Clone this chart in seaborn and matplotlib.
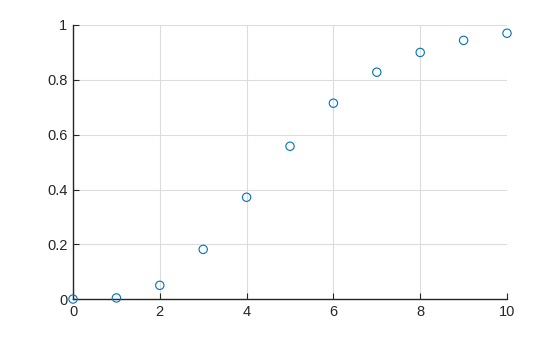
import matplotlib
matplotlib.use("Agg")
import matplotlib.pyplot as plt
import seaborn as sns
import pandas as pd

x_vals = [0, 1, 2, 3, 4, 5, 6, 7, 8, 9, 10]
y_vals = [0.001, 0.005, 0.051, 0.182, 0.372, 0.558, 0.715, 0.828, 0.900, 0.944, 0.970]
x_ticks = [0, 2, 4, 6, 8, 10]
y_ticks = [0, 0.2, 0.4, 0.6, 0.8, 1]
y_tick_labels = ["0", "0.2", "0.4", "0.6", "0.8", "1"]

sns.set_style("white")
plt.rcParams['font.family'] = ['Liberation Sans', 'DejaVu Sans']

df = pd.DataFrame({"x": x_vals, "y": y_vals})

fig = plt.figure(figsize=(5.6, 3.37), dpi=100)
ax = fig.add_axes([73/560, 1 - 299.3/337, (507 - 73)/560, (299.3 - 25)/337])

sns.scatterplot(data=df, x="x", y="y", ax=ax, marker="o", s=36,
                facecolor="none", edgecolor="#0072BD", linewidth=0.8,
                zorder=3, clip_on=False)

ax.set_xlim(0, 10)
ax.set_ylim(0, 1)
ax.set_xticks(x_ticks)
ax.set_yticks(y_ticks)
ax.set_yticklabels(y_tick_labels)
ax.set_xlabel("")
ax.set_ylabel("")
ax.grid(True, color="#dcdcdc", linewidth=0.8)
ax.set_axisbelow(True)
for s in ["top", "right"]:
    ax.spines[s].set_visible(False)
for s in ["left", "bottom"]:
    ax.spines[s].set_color("#262626")
    ax.spines[s].set_linewidth(1.0)
ax.tick_params(direction="in", length=4, width=0.8, colors="#262626",
               labelsize=10.5, left=True, bottom=True, pad=4)

fig.savefig("out.png", dpi=100)
